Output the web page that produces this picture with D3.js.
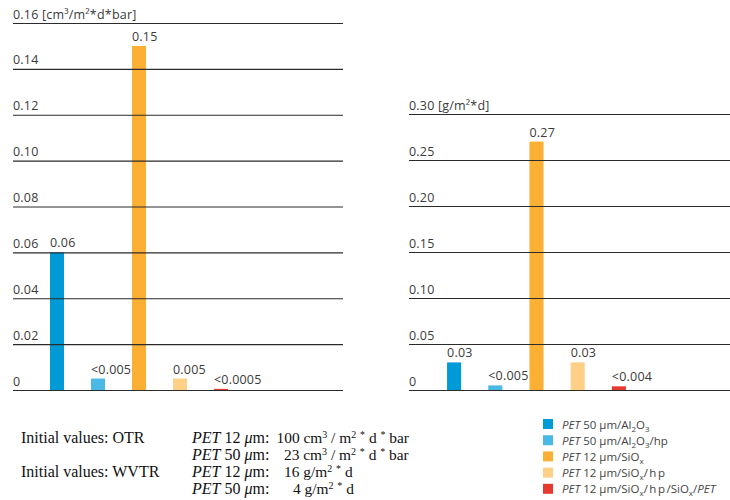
<!DOCTYPE html>
<html>
<head>
<meta charset="utf-8">
<script src="https://cdn.jsdelivr.net/npm/d3@7"></script>
<style>
  html, body { margin: 0; padding: 0; background: #fff; }
  svg { display: block; }
  .sans { font-family: "Open Sans", "Noto Sans", sans-serif; }
  .serif { font-family: "Liberation Serif", "DejaVu Serif", serif; }
</style>
</head>
<body>
<svg id="chart" width="730" height="500"></svg>
<script>
// Samples (same order in both charts and in the legend)
const categories = ["al2o3", "al2o3hp", "siox", "sioxhp", "sioxhpsioxpet"];
const colors = ["#009ad7", "#4bb9e6", "#fbb034", "#fdcf87", "#e63a30"];

// Oxygen transmission rate, cm³/m²*d*bar
const otrValues = [0.06, 0.005, 0.15, 0.005, 0.0005];
const otrLabels = ["0.06", "<0.005", "0.15", "0.005", "<0.0005"];
const otrTicks = [0, 0.02, 0.04, 0.06, 0.08, 0.10, 0.12, 0.14, 0.16];
const otrTickLabels = ["0", "0.02", "0.04", "0.06", "0.08", "0.10", "0.12", "0.14", "0.16 [cm³/m²*d*bar]"];

// Water vapour transmission rate, g/m²*d
const wvtrValues = [0.03, 0.005, 0.27, 0.03, 0.004];
const wvtrLabels = ["0.03", "<0.005", "0.27", "0.03", "<0.004"];
const wvtrTicks = [0, 0.05, 0.10, 0.15, 0.20, 0.25, 0.30];
const wvtrTickLabels = ["0", "0.05", "0.10", "0.15", "0.20", "0.25", "0.30 [g/m²*d]"];

// Legend entries: [text, style] parts; "i" italic, "sub" subscript
const legendEntries = [
  [["PET", "i"], [" 50 µm/Al", ""], ["2", "sub"], ["O", ""], ["3", "sub"]],
  [["PET", "i"], [" 50 µm/Al", ""], ["2", "sub"], ["O", ""], ["3", "sub"], ["/hp", ""]],
  [["PET", "i"], [" 12 µm/SiO", ""], ["x", "sub"]],
  [["PET", "i"], [" 12 µm/SiO", ""], ["x", "sub"], ["/hp", "ls"]],
  [["PET", "i"], [" 12 µm/SiO", ""], ["x", "sub"], ["/hp", "ls"], ["/SiO", ""], ["x", "sub"], ["/", ""], ["PET", "i"]]
];

const svg = d3.select("#chart");
const labelSize = 12.5;

function drawPanel(opts) {
  const g = svg.append("g");
  const y = d3.scaleLinear().domain(opts.domain).range([390, opts.top]);
  const x = d3.scaleBand().domain(categories)
    .range(opts.barRange).paddingInner(27 / 41).paddingOuter(27 / 82);

  // bars
  g.selectAll("rect.bar").data(opts.values).join("rect")
    .attr("class", "bar")
    .attr("x", (d, i) => x(categories[i]))
    .attr("width", x.bandwidth())
    .attr("y", d => y(d))
    .attr("height", d => y(0) - y(d))
    .attr("fill", (d, i) => colors[i]);

  // gridlines drawn above the bars
  const axis = d3.axisRight(y).tickValues(opts.ticks)
    .tickSize(opts.gridRight - opts.gridLeft)
    .tickFormat((d, i) => opts.tickLabels[i]);
  const ax = g.append("g")
    .attr("transform", `translate(${opts.gridLeft},0)`)
    .call(axis);
  ax.select(".domain").remove();
  ax.selectAll(".tick line").attr("stroke", "#2b2b2b").attr("stroke-width", 1.2);
  ax.selectAll(".tick text")
    .attr("class", "sans")
    .attr("x", 0).attr("dy", -5).attr("dominant-baseline", "auto")
    .attr("text-anchor", "start")
    .attr("fill", "#3a3a3a").attr("font-size", labelSize)
    .attr("letter-spacing", 0.2);

  // value labels
  g.selectAll("text.val").data(opts.values).join("text")
    .attr("class", "val sans")
    .attr("x", (d, i) => x(categories[i]))
    .attr("y", d => y(d) - 5)
    .attr("fill", "#3a3a3a").attr("font-size", labelSize)
    .attr("letter-spacing", 0.2)
    .text((d, i) => opts.labels[i]);
}

drawPanel({
  domain: [0, 0.16], top: 23, values: otrValues, labels: otrLabels,
  ticks: otrTicks, tickLabels: otrTickLabels,
  gridLeft: 13, gridRight: 343, barRange: [36.5, 241.5]
});

drawPanel({
  domain: [0, 0.30], top: 114, values: wvtrValues, labels: wvtrLabels,
  ticks: wvtrTicks, tickLabels: wvtrTickLabels,
  gridLeft: 409, gridRight: 730, barRange: [433.5, 639.5]
});

// Legend
const legend = svg.append("g").attr("class", "sans");
legendEntries.forEach((parts, i) => {
  const yy = 419 + i * 16.2;
  legend.append("rect")
    .attr("x", 543).attr("y", yy).attr("width", 10).attr("height", 10)
    .attr("fill", colors[i]);
  const t = legend.append("text")
    .attr("x", 562).attr("y", yy + 9.5)
    .attr("font-size", 11.5).attr("fill", "#444");
  parts.forEach(([s, style]) => {
    const sp = t.append("tspan").text(s);
    if (style === "i") sp.attr("font-style", "italic");
    if (style === "sub") sp.attr("font-size", 8).attr("baseline-shift", "-3");
    if (style === "ls") sp.attr("letter-spacing", 1.5);
  });
});

// Initial values note
const note = svg.append("g").attr("class", "serif").attr("font-size", 16).attr("fill", "#111");
const noteRows = [
  { head: "Initial values: OTR", film: "12", num: "100", numX: 276.5, unit: "otr" },
  { head: "", film: "50", num: "23", numX: 284, unit: "otr" },
  { head: "Initial values: WVTR", film: "12", num: "16", numX: 284, unit: "wvtr" },
  { head: "", film: "50", num: "4", numX: 293, unit: "wvtr" }
];
noteRows.forEach((r, i) => {
  const yy = 442.5 + i * 17;
  if (r.head) note.append("text").attr("x", 21).attr("y", yy).text(r.head);
  const f = note.append("text").attr("x", 192).attr("y", yy);
  f.append("tspan").attr("font-style", "italic").text("PET");
  f.append("tspan").text(" " + r.film + " ");
  f.append("tspan").attr("font-style", "italic").text("μ");
  f.append("tspan").text("m:");
  const v = note.append("text").attr("x", r.numX).attr("y", yy).attr("font-size", 15.4);
  const sup = txt => v.append("tspan").attr("font-size", 10).attr("baseline-shift", "5").text(txt);
  if (r.unit === "otr") {
    v.append("tspan").text(r.num + " cm");
    sup("3");
    v.append("tspan").text(" / m");
    sup("2");
    v.append("tspan").text(" ");
    sup("*");
    v.append("tspan").text(" d ");
    sup("*");
    v.append("tspan").text(" bar");
  } else {
    v.append("tspan").text(r.num + " g/m");
    sup("2");
    v.append("tspan").text(" ");
    sup("*");
    v.append("tspan").text(" d");
  }
});
</script>
</body>
</html>
